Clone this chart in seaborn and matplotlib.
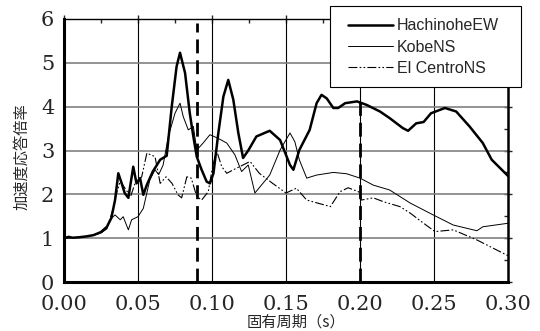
import numpy as np
import pandas as pd
import seaborn as sns
import matplotlib.pyplot as plt
from matplotlib.patches import Rectangle
from matplotlib.ticker import MultipleLocator, FormatStrFormatter

# response spectra
hachi_T = [0.000, 0.003, 0.006, 0.010, 0.015, 0.020, 0.025, 0.029, 0.032, 0.0345, 0.0367,
           0.039, 0.041, 0.0435, 0.0468, 0.049, 0.0514, 0.0536, 0.0559, 0.060, 0.065,
           0.0694, 0.0728, 0.0761, 0.0784, 0.0818, 0.085, 0.0874, 0.0897, 0.093, 0.0964,
           0.0986, 0.101, 0.1043, 0.1077, 0.111, 0.1144, 0.1178, 0.121, 0.1245, 0.130,
           0.139, 0.146, 0.1527, 0.155, 0.159, 0.166, 0.1707, 0.174, 0.1775, 0.182,
           0.1853, 0.190, 0.198, 0.2045, 0.2135, 0.220, 0.229, 0.2325, 0.238, 0.243,
           0.248, 0.2574, 0.265, 0.274, 0.283, 0.289, 0.300]
hachi_A = [1.00, 1.03, 1.01, 1.02, 1.04, 1.07, 1.14, 1.26, 1.46, 1.87, 2.48,
           2.25, 2.03, 1.92, 2.63, 2.25, 2.37, 1.99, 2.21, 2.52, 2.79,
           2.88, 4.00, 4.92, 5.23, 4.77, 3.85, 3.32, 2.86, 2.56, 2.29,
           2.25, 2.48, 3.40, 4.23, 4.61, 4.16, 3.40, 2.83, 3.00, 3.32,
           3.45, 3.24, 2.67, 2.56, 3.01, 3.47, 4.08, 4.27, 4.19, 3.97,
           3.97, 4.08, 4.12, 4.04, 3.89, 3.74, 3.51, 3.45, 3.62, 3.65,
           3.85, 3.97, 3.89, 3.55, 3.17, 2.79, 2.42]

kobe_T = [0.000, 0.005, 0.010, 0.015, 0.020, 0.025, 0.029, 0.031, 0.0345, 0.038,
          0.040, 0.0435, 0.0457, 0.050, 0.0536, 0.058, 0.0615, 0.064, 0.067, 0.0705,
          0.075, 0.0784, 0.0806, 0.084, 0.0874, 0.0897, 0.094, 0.0986, 0.104, 0.110,
          0.1155, 0.120, 0.1245, 0.129, 0.139, 0.146, 0.1527, 0.156, 0.159, 0.164,
          0.1707, 0.182, 0.191, 0.200, 0.209, 0.220, 0.234, 0.2495, 0.263, 0.279,
          0.283, 0.300]
kobe_A = [1.00, 1.01, 1.02, 1.04, 1.07, 1.12, 1.22, 1.42, 1.53, 1.42,
          1.49, 1.19, 1.42, 1.49, 1.68, 2.33, 2.56, 2.45, 2.67, 3.32,
          3.85, 4.08, 3.77, 3.47, 3.55, 3.01, 3.17, 3.36, 3.28, 3.17,
          2.90, 2.52, 2.67, 2.03, 2.44, 3.01, 3.40, 3.20, 2.79, 2.37,
          2.44, 2.50, 2.47, 2.37, 2.21, 2.10, 1.80, 1.53, 1.30, 1.17,
          1.26, 1.34]

centro_T = [0.000, 0.005, 0.010, 0.015, 0.020, 0.025, 0.029, 0.033, 0.0356, 0.038,
            0.042, 0.045, 0.048, 0.0525, 0.056, 0.0615, 0.065, 0.069, 0.073, 0.077,
            0.0795, 0.083, 0.086, 0.0897, 0.093, 0.0975, 0.0998, 0.103, 0.1066, 0.110,
            0.1144, 0.121, 0.1257, 0.132, 0.141, 0.150, 0.157, 0.164, 0.180, 0.1865,
            0.192, 0.199, 0.201, 0.209, 0.216, 0.227, 0.234, 0.243, 0.2507, 0.263,
            0.279, 0.300]
centro_A = [1.00, 1.01, 1.02, 1.04, 1.07, 1.12, 1.22, 1.64, 2.03, 2.30,
            2.10, 1.95, 2.25, 2.40, 2.94, 2.86, 2.25, 2.40, 2.25, 1.99,
            1.92, 2.40, 2.37, 1.95, 1.87, 2.06, 2.52, 3.01, 2.63, 2.48,
            2.56, 2.67, 2.75, 2.48, 2.25, 2.03, 2.14, 1.87, 1.72, 2.06,
            2.15, 2.06, 1.87, 1.92, 1.83, 1.72, 1.57, 1.34, 1.15, 1.19,
            0.96, 0.60]

marker_T = [0.09, 0.20]
marker_top = [5.9, 4.2]

x_ticks = [0.00, 0.05, 0.10, 0.15, 0.20, 0.25, 0.30]
y_ticks = [0, 1, 2, 3, 4, 5, 6]

sns.set_style("white")
plt.rcParams["font.family"] = ["Noto Sans CJK JP", "DejaVu Sans"]

fig = plt.figure(figsize=(5.4, 3.31), dpi=100)
ax = fig.add_axes([0.1185, 0.148, 0.8222, 0.7946])

for x in x_ticks[1:-1]:
    ax.axvline(x, color="black", lw=0.8, zorder=1)
for y in y_ticks[1:-1]:
    ax.axhline(y, color="#808080", lw=1.2, zorder=1)

df_h = pd.DataFrame({"T": hachi_T, "A": hachi_A})
df_k = pd.DataFrame({"T": kobe_T, "A": kobe_A})
df_c = pd.DataFrame({"T": centro_T, "A": centro_A})

sns.lineplot(data=df_h, x="T", y="A", ax=ax, color="black", lw=1.8, sort=False, zorder=4)
sns.lineplot(data=df_k, x="T", y="A", ax=ax, color="black", lw=0.7, sort=False, zorder=3)
sns.lineplot(data=df_c, x="T", y="A", ax=ax, color="black", lw=0.8, sort=False, zorder=3)
ax.lines[-1].set_linestyle((0, (8, 2, 1.5, 2, 1.5, 2)))
handles = ax.lines[-3:]
for ln in handles:
    ln.set_solid_joinstyle("round")

for t, top in zip(marker_T, marker_top):
    ax.plot([t, t], [0, top], color="black", lw=2, linestyle=(0, (5, 2.5)), zorder=5)

ax.set_xlim(0, 0.30)
ax.set_ylim(0, 6)
ax.xaxis.set_major_locator(MultipleLocator(0.05))
ax.xaxis.set_minor_locator(MultipleLocator(0.025))
ax.yaxis.set_major_locator(MultipleLocator(1))
ax.yaxis.set_minor_locator(MultipleLocator(0.5))
ax.xaxis.set_major_formatter(FormatStrFormatter("%.2f"))
ax.tick_params(which="major", direction="inout", length=6, width=1,
               top=True, right=True, labelsize=15)
ax.tick_params(which="minor", direction="in", length=3, width=1,
               top=True, right=True)
ax.tick_params(axis="x", pad=6)
ax.tick_params(axis="y", pad=4)
for lab in ax.get_xticklabels() + ax.get_yticklabels():
    lab.set_family("DejaVu Serif")

for side, w in [("left", 2.2), ("bottom", 2.2), ("right", 1.8), ("top", 1.0)]:
    ax.spines[side].set_visible(True)
    ax.spines[side].set_color("black")
    ax.spines[side].set_linewidth(w)

ax.set_xlabel("")
ax.set_ylabel("")
fig.text(296 / 540, 1 - 322 / 331, "固有周期（s）", ha="center", va="center", fontsize=11)
fig.text(22 / 540, 1 - 157 / 331, "加速度応答倍率", ha="center", va="center",
         rotation=90, fontsize=11)

# legend box sticks out of the axes at the top right
box = Rectangle((330 / 540, 1 - 87 / 331), 191 / 540, 81 / 331, transform=fig.transFigure,
                facecolor="white", edgecolor="black", lw=0.8, zorder=4)
fig.patches.append(box)
leg = fig.legend(handles, ["HachinoheEW", "KobeNS", "El CentroNS"],
                 loc="upper left", bbox_to_anchor=(345 / 540, 1 - 15 / 331),
                 bbox_transform=fig.transFigure, borderaxespad=0, frameon=False,
                 handlelength=2.8, handletextpad=0.25, labelspacing=0.4, borderpad=0.2,
                 prop={"family": ["Liberation Sans"], "size": 11.5})
leg.set_zorder(6)

fig.savefig("out.png", dpi=100)
